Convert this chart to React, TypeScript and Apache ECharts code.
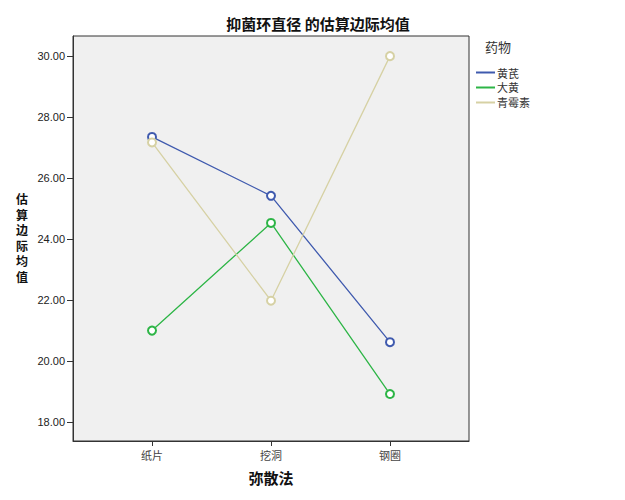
import React, { useEffect, useRef } from "react";
import * as echarts from "echarts";

const categories = ["纸片", "挖洞", "钢圈"];
const seriesNames = ["黄芪", "大黄", "青霉素"];
const huangqi = [27.35, 25.42, 20.62];
const dahuang = [21.0, 24.53, 18.92];
const qingmeisu = [27.17, 21.98, 30.0];
const yTicks = [18, 20, 22, 24, 26, 28, 30];
const yName = ["估", "算", "边", "际", "均", "值"];
const colors = ["#3F5AAE", "#2DB546", "#D6D1A4"];

export default function App() {
  const ref = useRef<HTMLDivElement>(null);
  useEffect(() => {
    const chart = echarts.init(ref.current!, null, { renderer: "svg" });
    const values = [huangqi, dahuang, qingmeisu];
    chart.setOption({
      animation: false,
      backgroundColor: "#fff",
      title: {
        text: "抑菌环直径 的估算边际均值",
        left: 313,
        textAlign: "center",
        top: 11,
        textStyle: { fontFamily: "Noto Sans CJK SC", fontSize: 15, fontWeight: "bold", color: "#111" },
      },
      legend: {
        orient: "vertical",
        left: 471,
        top: 62,
        itemWidth: 19,
        itemHeight: 2,
        itemGap: 4,
        icon: "rect",
        data: seriesNames,
        textStyle: { fontSize: 11, color: "#333", fontFamily: "Noto Sans CJK SC", padding: [0, 0, 0, -3] },
      },
      graphic: [
        {
          type: "text",
          left: 485,
          top: 40,
          style: { text: "药物", fontSize: 13, fill: "#333", fontFamily: "Noto Sans CJK SC" },
        },
        ...yName.map((c, i) => ({
          type: "text",
          left: 16,
          top: 192 + i * 15.5,
          style: {
            text: c,
            fontSize: 12,
            lineHeight: 13,
            fontWeight: "bold",
            fill: "#111",
            fontFamily: "Noto Sans CJK SC",
          },
        })),
      ],
      grid: {
        left: 73,
        top: 36,
        width: 396,
        height: 405,
        show: true,
        backgroundColor: "#F0F0F0",
        borderColor: "#333",
        borderWidth: 1,
      },
      xAxis: {
        type: "value",
        min: -0.664,
        max: 2.664,
        name: "弥散法",
        nameLocation: "middle",
        nameGap: 29,
        nameTextStyle: { fontSize: 15, fontWeight: "bold", color: "#111", fontFamily: "Noto Sans CJK SC" },
        splitLine: { show: false },
        axisLine: { show: true, onZero: false, lineStyle: { color: "#333" } },
        axisTick: { show: true, length: 5, customValues: [0, 1, 2], lineStyle: { color: "#333" } },
        axisLabel: {
          customValues: [0, 1, 2],
          formatter: (v: number) => categories[Math.round(v)] ?? "",
          fontSize: 11,
          color: "#444",
          margin: 8,
          fontFamily: "Noto Sans CJK SC",
        },
      },
      yAxis: {
        type: "value",
        min: 17.38,
        max: 30.66,
        splitLine: { show: false },
        axisLine: { show: true, onZero: false, lineStyle: { color: "#333" } },
        axisTick: { show: true, length: 6, customValues: yTicks, lineStyle: { color: "#333" } },
        axisLabel: {
          customValues: yTicks,
          formatter: (v: number) => v.toFixed(2),
          fontSize: 11,
          color: "#222",
          margin: 8,
          fontFamily: "Arial, Liberation Sans",
        },
      },
      series: seriesNames.map((n, i) => ({
        name: n,
        type: "line",
        data: values[i].map((v, j) => [j, v]),
        symbol: "emptyCircle",
        symbolSize: 8,
        color: colors[i],
        lineStyle: { width: 1.3, color: colors[i] },
        itemStyle: { color: colors[i], borderWidth: 0.9 },
      })),
    });
    return () => chart.dispose();
  }, []);
  return <div ref={ref} style={{ position: "fixed", left: 0, top: 0, width: 625, height: 500 }} />;
}
